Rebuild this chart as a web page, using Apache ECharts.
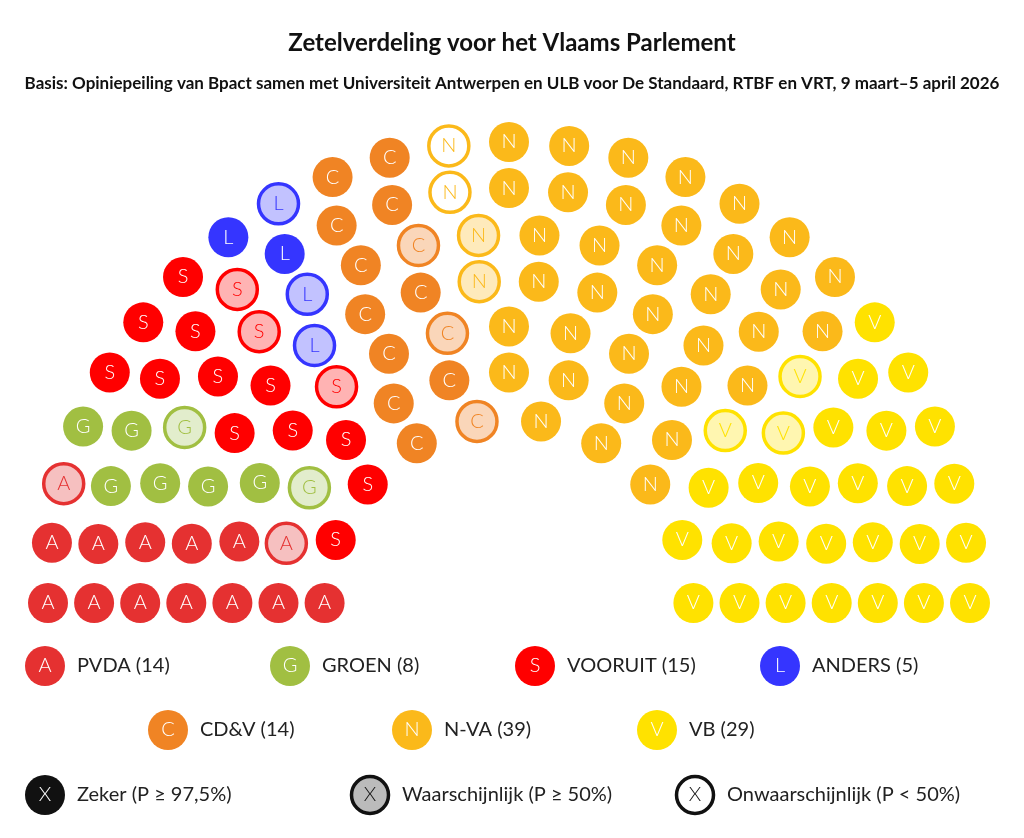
<!DOCTYPE html>
<html>
<head>
<meta charset="utf-8">
<script src="https://cdn.jsdelivr.net/npm/echarts@6/dist/echarts.min.js"></script>
<style>
  html, body { margin: 0; padding: 0; background: #fff; }
  #main { width: 1024px; height: 838px; }
</style>
</head>
<body>
<div id="main"></div>
<script>
// partijen en zetels
var partyCodes = ['A', 'G', 'S', 'L', 'C', 'N', 'V'];
var partyNames = ['PVDA', 'GROEN', 'VOORUIT', 'ANDERS', 'CD&V', 'N-VA', 'VB'];
var partySeats = [14, 8, 15, 5, 14, 39, 29];
var partyColors = ['#e53131', '#a1bf42', '#ff0000', '#3535ff', '#f08424', '#fbb91a', '#ffe200'];
var partyTints = ['#f6c0c0', '#e2edcc', '#ffb3b3', '#c2c2ff', '#fad6b9', '#feeabb', '#fff6b0'];

// zetels per rij (binnen naar buiten), in volgorde van links naar rechts
var rowSeats = [
  'ASSCCNNNVV',
  'AAGSCCNNNNVVV',
  'AAGSSCCNNNNVVVV',
  'AAGSSLCCNNNNNNVVVV',
  'AAGGSSLCCNNNNNNVVVVV',
  'AAGGSSSLCCNNNNNNNNVVVVV',
  'AAAGSSSLLCCNNNNNNNNVVVVVV'
];
// s = zeker, p = waarschijnlijk, u = onwaarschijnlijk
var rowStatus = [
  'sssspsssss',
  'sppssssssssss',
  'sssspspsssspsss',
  'ssssspsspssssspsss',
  'ssspsppsppssssspssss',
  'sssssspsssussssssssssss',
  'sspssssspssusssssssssssss'
];

var legendStatus = ['Zeker (P \u2265 97,5%)', 'Waarschijnlijk (P \u2265 50%)', 'Onwaarschijnlijk (P < 50%)'];

var seatData = [];
rowSeats.forEach(function (row, i) {
  var n = row.length;
  for (var j = 0; j < n; j++) {
    var p = partyCodes.indexOf(row[j]);
    var st = rowStatus[i][j];
    var fill = st === 's' ? partyColors[p] : (st === 'p' ? partyTints[p] : '#ffffff');
    seatData.push({
      value: [i + 4, 180 * j / (n - 1)],
      itemStyle: {
        color: fill,
        opacity: 1,
        borderColor: partyColors[p],
        borderWidth: st === 's' ? 0 : 3.5
      },
      label: {
        formatter: row[j],
        color: st === 's' ? '#ffffff' : partyColors[p]
      }
    });
  }
});

// legenda
var graphics = [];
function legendItem(x, y, letter, fill, border, txtColor, text) {
  graphics.push({
    type: 'circle', shape: { cx: x, cy: y, r: border ? 18.5 : 20 },
    style: { fill: fill, stroke: border || null, lineWidth: border ? 3.5 : 0 }
  });
  graphics.push({
    type: 'text', x: x, y: y,
    style: { text: letter, fill: txtColor, font: '300 20px Lato', align: 'center', verticalAlign: 'middle' }
  });
  graphics.push({
    type: 'text', x: x + 32, y: y,
    style: { text: text, fill: '#222', font: '20px Lato', verticalAlign: 'middle' }
  });
}
var lx = [45, 290, 535, 780, 168, 412, 657];
var ly = [666, 666, 666, 666, 730, 730, 730];
partyCodes.forEach(function (c, k) {
  legendItem(lx[k], ly[k], c, partyColors[k], null, '#fff', partyNames[k] + ' (' + partySeats[k] + ')');
});
legendItem(45, 795, 'X', '#111', null, '#fff', legendStatus[0]);
legendItem(370, 795, 'X', '#bbbbbb', '#111', '#111', legendStatus[1]);
legendItem(695, 795, 'X', '#fff', '#111', '#111', legendStatus[2]);

var chart = echarts.init(document.getElementById('main'), null, { renderer: 'canvas' });
chart.setOption({
  animation: false,
  title: {
    text: 'Zetelverdeling voor het Vlaams Parlement',
    subtext: 'Basis: Opiniepeiling van Bpact samen met Universiteit Antwerpen en ULB voor De Standaard, RTBF en VRT, 9 maart\u20135 april 2026',
    left: 'center', top: 26, itemGap: 20,
    textStyle: { fontFamily: 'Lato', fontWeight: 'bold', fontSize: 24, color: '#111' },
    subtextStyle: { fontFamily: 'Lato', fontWeight: 'bold', fontSize: 17, color: '#111' }
  },
  polar: { center: [509, 603], radius: 461 },
  radiusAxis: { type: 'value', min: 0, max: 10, show: false },
  angleAxis: { type: 'value', min: 0, max: 360, startAngle: 180, clockwise: true, show: false },
  graphic: graphics,
  series: [{
    type: 'scatter',
    coordinateSystem: 'polar',
    symbol: 'circle',
    symbolSize: 40,
    label: { show: true, position: 'inside', fontFamily: 'Lato', fontWeight: 300, fontSize: 20 },
    data: seatData
  }]
});
</script>
</body>
</html>
